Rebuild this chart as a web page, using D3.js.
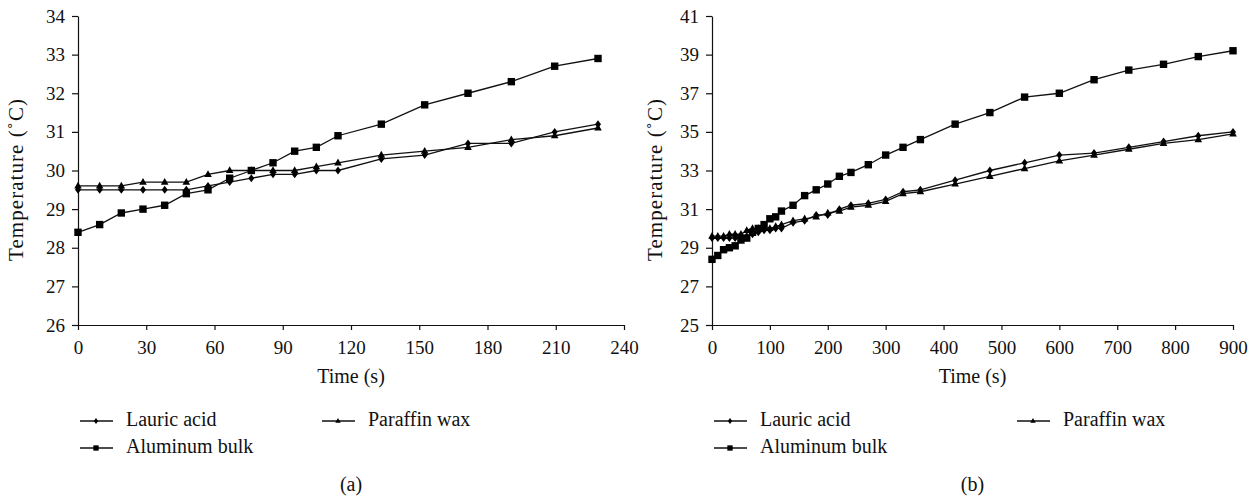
<!DOCTYPE html>
<html>
<head>
<meta charset="utf-8">
<script src="https://cdn.jsdelivr.net/npm/d3@7"></script>
<style>
  body { margin: 0; background: #fff; }
  svg text { font-family: "Liberation Serif", "Times New Roman", serif; fill: #111; }
</style>
</head>
<body>
<svg id="vis" width="1258" height="502"></svg>
<script>
// panel (a)
const timeA = [0, 10, 20, 30, 40, 50, 60, 70, 80, 90, 100, 110, 120, 140, 160, 180, 200, 220, 240]
const lauricA = [29.5, 29.5, 29.5, 29.5, 29.5, 29.5, 29.6, 29.7, 29.8, 29.9, 29.9, 30.0, 30.0, 30.3, 30.4, 30.7, 30.7, 31.0, 31.2]
const paraffinA = [29.6, 29.6, 29.6, 29.7, 29.7, 29.7, 29.9, 30.0, 30.0, 30.0, 30.0, 30.1, 30.2, 30.4, 30.5, 30.6, 30.8, 30.9, 31.1]
const aluminumA = [28.4, 28.6, 28.9, 29.0, 29.1, 29.4, 29.5, 29.8, 30.0, 30.2, 30.5, 30.6, 30.9, 31.2, 31.7, 32.0, 32.3, 32.7, 32.9]
const xTicksA = [0, 30, 60, 90, 120, 150, 180, 210, 240]
const yTicksA = [26, 27, 28, 29, 30, 31, 32, 33, 34]

// panel (b)
const timeB = [0, 10, 20, 30, 40, 50, 60, 70, 80, 90, 100, 110, 120, 140, 160, 180, 200, 220, 240,
    270, 300, 330, 360, 420, 480, 540, 600, 660, 720, 780, 840, 900]
const lauricB = [29.5, 29.5, 29.5, 29.5, 29.5, 29.5, 29.6, 29.7, 29.8, 29.9, 29.9, 30.0, 30.0, 30.3, 30.4, 30.7, 30.7, 31.0, 31.2,
    31.3, 31.5, 31.9, 32.0, 32.5, 33.0, 33.4, 33.8, 33.9, 34.2, 34.5, 34.8, 35.0]
const paraffinB = [29.6, 29.6, 29.6, 29.7, 29.7, 29.7, 29.9, 30.0, 30.0, 30.0, 30.0, 30.1, 30.2, 30.4, 30.5, 30.6, 30.8, 30.9, 31.1,
    31.2, 31.4, 31.8, 31.9, 32.3, 32.7, 33.1, 33.5, 33.8, 34.1, 34.4, 34.6, 34.9]
const aluminumB = [28.4, 28.6, 28.9, 29.0, 29.1, 29.4, 29.5, 29.8, 30.0, 30.2, 30.5, 30.6, 30.9, 31.2, 31.7, 32.0, 32.3, 32.7, 32.9,
    33.3, 33.8, 34.2, 34.6, 35.4, 36.0, 36.8, 37.0, 37.7, 38.2, 38.5, 38.9, 39.2]
const xTicksB = [0, 100, 200, 300, 400, 500, 600, 700, 800, 900]
const yTicksB = [25, 27, 29, 31, 33, 35, 37, 39, 41]

const seriesNames = ["Lauric acid", "Paraffin wax", "Aluminum bulk"]

// marker shapes, s = scale factor
const markers = [
    s => `M0,${-4 * s}L${3 * s},0L0,${4 * s}L${-3 * s},0Z`,
    s => `M0,${-4.2 * s}L${3.8 * s},${2.6 * s}L${-3.8 * s},${2.6 * s}Z`,
    s => `M${-3.7 * s},${-3.7 * s}h${7.4 * s}v${7.4 * s}h${-7.4 * s}Z`
]

const svg = d3.select("#vis")
svg.append("rect").attr("width", 1258).attr("height", 502).attr("fill", "#fff")

function panel(o) {
    const g = svg.append("g")
    const x = d3.scaleLinear().domain(o.xDomain).range([o.left, o.right])
    // points sit on their own range (the plotted data stops short of the axis end in panel a)
    const xp = d3.scaleLinear().domain(o.xDomain).range([o.left, o.dataRight])
    const y = d3.scaleLinear().domain(o.yDomain).range([o.bottom, o.top])

    const xAxis = g.append("g").attr("transform", `translate(0,${o.bottom})`)
        .call(d3.axisBottom(x).tickValues(o.xTicks).tickSize(5).tickPadding(0).tickSizeOuter(0))
    xAxis.selectAll(".tick text").attr("dy", null).attr("y", 29)
    const yAxis = g.append("g").attr("transform", `translate(${o.left},0)`)
        .call(d3.axisLeft(y).tickValues(o.yTicks).tickSize(6).tickPadding(7).tickSizeOuter(0))
    for (const a of [xAxis, yAxis]) {
        a.select(".domain").attr("stroke", "#111").attr("stroke-width", 1.2)
        a.selectAll(".tick line").attr("stroke", "#111").attr("stroke-width", 1.2)
        a.selectAll("text").attr("font-size", 19).attr("fill", "#111")
            .style("font-family", "'Liberation Serif', serif")
    }

    g.append("text").attr("x", (o.left + o.right) / 2).attr("y", 383)
        .attr("text-anchor", "middle").attr("font-size", 20).text("Time (s)")
    g.append("text")
        .attr("transform", `translate(${o.left - o.titleOff},180) rotate(-90)`)
        .attr("text-anchor", "middle").attr("font-size", 21)
        .attr("textLength", 162).attr("lengthAdjust", "spacing")
        .text("Temperature (˚C)")

    const line = d3.line().x(d => xp(d[0])).y(d => y(d[1]))
    o.series.forEach((vals, k) => {
        const pts = o.time.map((t, i) => [t, vals[i]])
        g.append("path").datum(pts).attr("d", line)
            .attr("fill", "none").attr("stroke", "#111").attr("stroke-width", 1.3)
        g.selectAll(null).data(pts).join("path")
            .attr("transform", d => `translate(${xp(d[0])},${y(d[1])})`)
            .attr("d", markers[k](1))
            .attr("fill", "#000")
    })

    // legend
    const leg = [[o.left + 2, 421], [o.legCol2, 421], [o.left + 2, 448]]
    seriesNames.forEach((name, k) => {
        const [lx, ly] = leg[k]
        g.append("line").attr("x1", lx).attr("x2", lx + 33).attr("y1", ly).attr("y2", ly)
            .attr("stroke", "#111").attr("stroke-width", 1.3)
        g.append("path").attr("transform", `translate(${lx + 16},${ly})`)
            .attr("d", markers[k](0.72)).attr("fill", "#000")
        g.append("text").attr("x", lx + 46).attr("y", ly + 4.5).attr("font-size", 20).text(name)
    })

    g.append("text").attr("x", (o.left + o.right) / 2).attr("y", 491)
        .attr("text-anchor", "middle").attr("font-size", 20).text(o.label)
}

panel({
    xDomain: [0, 240], yDomain: [26, 34], left: 78, right: 624, dataRight: 598, top: 16, bottom: 325,
    xTicks: xTicksA, yTicks: yTicksA, time: timeA, titleOff: 55,
    series: [lauricA, paraffinA, aluminumA], legCol2: 322, label: "(a)"
})
panel({
    xDomain: [0, 900], yDomain: [25, 41], left: 712, right: 1233, dataRight: 1233, top: 16, bottom: 325,
    xTicks: xTicksB, yTicks: yTicksB, time: timeB, titleOff: 50,
    series: [lauricB, paraffinB, aluminumB], legCol2: 1017, label: "(b)"
})
</script>
</body>
</html>
